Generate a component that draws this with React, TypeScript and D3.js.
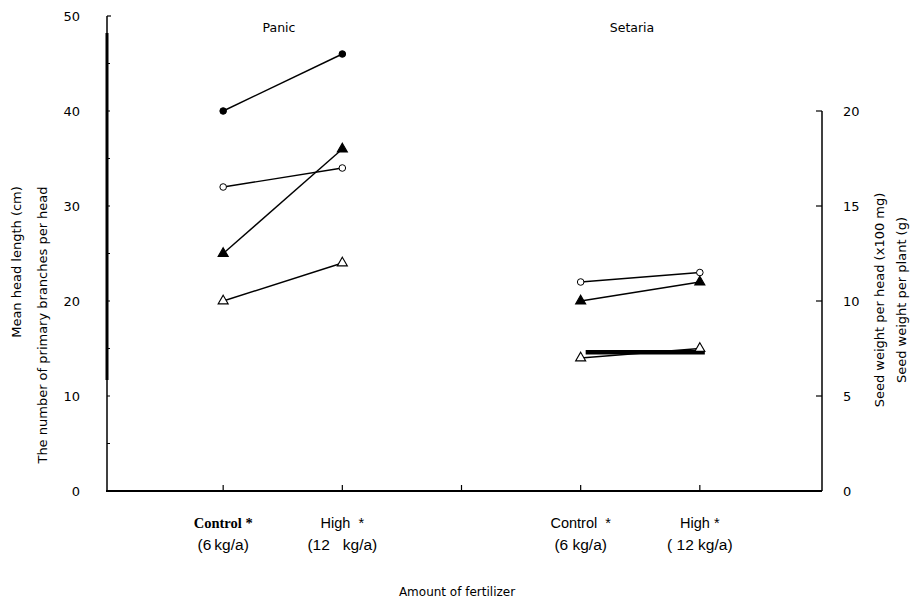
import React from "react";
import * as d3 from "d3";

// ---- data ----
const groups = ["Panic", "Setaria"];
const groupIndex = [
  [1, 2],
  [4, 5],
];
const levelTop = [
  ["Control *", "High  *"],
  ["Control  *", "High *"],
];
const levelBottom = [
  ["(6\u2009kg/a)", "(12   kg/a)"],
  ["(6 kg/a)", "( 12 kg/a)"],
];
const panicFilledCircle = [40, 46];
const panicOpenCircle = [32, 34];
const panicFilledTriangle = [25, 36];
const panicOpenTriangle = [20, 24];
const setariaOpenCircle = [22, 23];
const setariaFilledTriangle = [20, 22];
const setariaOpenTriangle = [14, 15];
const setariaFilledBar = [14.6, 14.6];
const leftTicks = [0, 10, 20, 30, 40, 50];
const leftMinorTicks = [5, 15, 25, 35, 45];
const rightTicks = [0, 5, 10, 15, 20];

type Series = { group: number; values: number[]; marker: "fc" | "oc" | "ft" | "ot" | "bar" };
const series: Series[] = [
  { group: 0, values: panicFilledCircle, marker: "fc" },
  { group: 0, values: panicOpenCircle, marker: "oc" },
  { group: 0, values: panicFilledTriangle, marker: "ft" },
  { group: 0, values: panicOpenTriangle, marker: "ot" },
  { group: 1, values: setariaOpenCircle, marker: "oc" },
  { group: 1, values: setariaFilledTriangle, marker: "ft" },
  { group: 1, values: setariaFilledBar, marker: "bar" },
  { group: 1, values: setariaOpenTriangle, marker: "ot" },
];

const W = 914;
const H = 602;

export default function App() {
  const x = d3.scaleLinear().domain([0, 6]).range([104, 819]);
  const y = d3.scaleLinear().domain([0, 50]).range([491, 16]);
  const yR = d3.scaleLinear().domain([0, 20]).range([491, 111]);
  const axL = 107;
  const axR = 822;
  const axB = 491;
  const sans = "DejaVu Sans, sans-serif";
  const tri = d3.symbol().type(d3.symbolTriangle).size(44)() as string;
  const line = d3
    .line<[number, number]>()
    .x((d) => d[0])
    .y((d) => d[1]);

  return (
    <div style={{ position: "absolute", left: 0, top: 0 }}>
      <svg width={W} height={H} style={{ display: "block", background: "#fff" }}>
        <rect width={W} height={H} fill="#fff" />
        {/* left axis */}
        <line x1={axL} x2={axL} y1={y(50)} y2={axB} stroke="#000" strokeWidth={1.5} />
        <line x1={axL} x2={axL} y1={33} y2={380} stroke="#000" strokeWidth={3} />
        <line x1={axL} x2={axL + 4} y1={y(50)} y2={y(50)} stroke="#000" strokeWidth={1.2} />
        {leftMinorTicks.concat([10, 20, 30, 40]).map((t) => (
          <line key={"lt" + t} x1={axL} x2={axL + 3} y1={y(t)} y2={y(t)} stroke="#000" strokeWidth={1} />
        ))}
        {leftTicks.map((t) => (
          <text key={"ll" + t} x={80} y={y(t)} dy="0.36em" textAnchor="end" fontFamily={sans} fontSize={13}>
            {t}
          </text>
        ))}
        {/* right axis */}
        <line x1={axR} x2={axR} y1={yR(20)} y2={axB} stroke="#000" strokeWidth={1.5} />
        {rightTicks.filter((t) => t > 0).map((t) => (
          <line key={"rt" + t} x1={axR - 6} x2={axR} y1={yR(t)} y2={yR(t)} stroke="#000" strokeWidth={1.2} />
        ))}
        {rightTicks.map((t) => (
          <text key={"rl" + t} x={843} y={yR(t)} dy="0.36em" textAnchor="start" fontFamily={sans} fontSize={13}>
            {t}
          </text>
        ))}
        {/* bottom axis */}
        <line x1={axL - 1} x2={axR} y1={axB} y2={axB} stroke="#000" strokeWidth={2} />
        {[1, 2, 3, 4, 5].map((i) => (
          <line key={"bt" + i} x1={x(i)} x2={x(i)} y1={axB} y2={axB - 6} stroke="#000" strokeWidth={1.2} />
        ))}
        {/* axis titles */}
        <text transform="translate(21,262) rotate(-90)" textAnchor="middle" fontFamily={sans} fontSize={13}>
          Mean head length (cm)
        </text>
        <text transform="translate(47,325) rotate(-90)" textAnchor="middle" fontFamily={sans} fontSize={13}>
          The number of primary branches per head
        </text>
        <text transform="translate(884,300) rotate(-90)" textAnchor="middle" fontFamily={sans} fontSize={13}>
          Seed weight per head (x100 mg)
        </text>
        <text transform="translate(906,300) rotate(-90)" textAnchor="middle" fontFamily={sans} fontSize={13}>
          Seed weight per plant (g)
        </text>
        {/* group titles */}
        <text x={279} y={32} textAnchor="middle" fontFamily={sans} fontSize={12.5}>
          {groups[0]}
        </text>
        <text x={632} y={32} textAnchor="middle" fontFamily={sans} fontSize={12.5}>
          {groups[1]}
        </text>
        {/* x labels */}
        {groupIndex.map((idx, g) =>
          idx.map((i, k) => (
            <g key={"xl" + g + k}>
              <text
                x={x(i)}
                y={528}
                textAnchor="middle"
                fontFamily={g === 0 && k === 0 ? "Liberation Serif, serif" : "Liberation Sans, sans-serif"}
                fontWeight={g === 0 && k === 0 ? "bold" : "normal"}
                fontSize={g === 0 && k === 0 ? 14.5 : 14.5}
                style={{ whiteSpace: "pre" }}
              >
                {levelTop[g][k]}
              </text>
              <text
                x={x(i)}
                y={550}
                textAnchor="middle"
                fontFamily="Liberation Sans, sans-serif"
                fontSize={15.5}
                style={{ whiteSpace: "pre" }}
              >
                {levelBottom[g][k]}
              </text>
            </g>
          ))
        )}
        <text x={457} y={596} textAnchor="middle" fontFamily={sans} fontSize={12}>
          Amount of fertilizer
        </text>
        {/* series */}
        {series.map((s, si) => {
          const pts: [number, number][] = s.values.map((v, k) => [x(groupIndex[s.group][k]), y(v)]);
          if (s.marker === "bar") {
            const shifted = pts.map((p) => [p[0] + 5, p[1]] as [number, number]);
            return <path key={"s" + si} d={line(shifted) as string} stroke="#000" strokeWidth={4.5} fill="none" />;
          }
          return (
            <g key={"s" + si}>
              <path d={line(pts) as string} stroke="#000" strokeWidth={1.4} fill="none" />
              {pts.map((p, k) => {
                if (s.marker === "fc" || s.marker === "oc") {
                  return (
                    <circle
                      key={k}
                      cx={p[0]}
                      cy={p[1]}
                      r={3.3}
                      fill={s.marker === "fc" ? "#000" : "#fff"}
                      stroke="#000"
                      strokeWidth={1}
                    />
                  );
                }
                return (
                  <path
                    key={k}
                    d={tri}
                    transform={`translate(${p[0]},${p[1]})`}
                    fill={s.marker === "ft" ? "#000" : "#fff"}
                    stroke="#000"
                    strokeWidth={1.1}
                  />
                );
              })}
            </g>
          );
        })}
      </svg>
    </div>
  );
}
